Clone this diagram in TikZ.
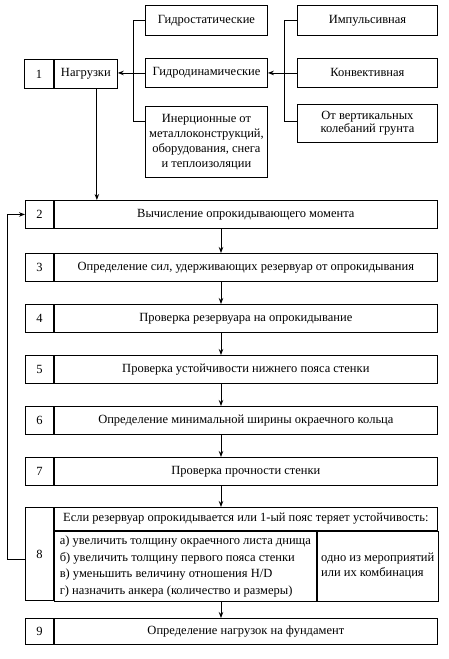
\documentclass[tikz,border=0pt]{standalone}
\usepackage{fontspec}
\setmainfont{Liberation Serif}
\usetikzlibrary{arrows.meta}
\newcommand{\widthnum}{28pt}
\newcommand{\widthstep}{383pt}
\newcommand{\heightstep}{28pt}
\tikzset{
    common/.style={anchor=north west, draw, rectangle, inner sep=2pt, line width=0.9pt,
        font=\fontsize{12.5}{15}\selectfont},
    num/.style={common, minimum width=\widthnum, minimum height=\heightstep},
    stepbox/.style={common, minimum width=\widthstep, minimum height=\heightstep},
    load/.style={common, minimum width=122pt, align=center},
    kind/.style={common, minimum width=140pt, align=center},
    link/.style={line width=0.9pt},
    arrow/.style={link, -{Stealth[length=6pt,width=4.5pt]}}
}

\begin{document}
\begin{tikzpicture}[x=1pt, y=-1pt]
    \useasboundingbox (0,0) rectangle (449,659);

    % loads
    \node[num, minimum width=29pt, minimum height=29pt] (n1) at (24,59) {1};
    \node[common, minimum width=63pt, minimum height=29pt] (s1) at (n1.north east) {Нагрузки};

    \node[load, minimum height=30pt] (ls) at (145,5) {Гидростатические};
    \node[load, minimum height=29pt] (ld) at (145,58) {Гидродинамические};
    \node[load, minimum height=71pt] (li) at (145,106)
        {Инерционные от\\металлоконструкций,\\оборудования, снега\\и теплоизоляции};

    \node[kind, minimum height=30pt] (ki) at (297,5) {Импульсивная};
    \node[kind, minimum height=29pt] (kc) at (297,58) {Конвективная};
    \node[kind, minimum height=38pt, font=\fontsize{12.5}{13.5}\selectfont] (kv) at (297,104)
        {От вертикальных\\колебаний грунта};

    \coordinate (bl) at (133,121);
    \coordinate (br) at (284,121);
    \draw[link] (ls.west) -| (bl) -- (bl -| li.west);
    \draw[arrow] (ld.west) -- (ld.west -| s1.east);
    \draw[link] (ki.west) -| (br) -- (br -| kv.west);
    \draw[arrow] (kc.west) -- (kc.west -| ld.east);

    % steps
    \node[num] (n2) at (25,200) {2};
    \node[stepbox] (s2) at (n2.north east) {Вычисление опрокидывающего момента};
    \node[num] (n3) at (25,253) {3};
    \node[stepbox] (s3) at (n3.north east) {Определение сил, удерживающих резервуар от опрокидывания};
    \node[num] (n4) at (25,304) {4};
    \node[stepbox] (s4) at (n4.north east) {Проверка резервуара на опрокидывание};
    \node[num] (n5) at (25,355) {5};
    \node[stepbox] (s5) at (n5.north east) {Проверка устойчивости нижнего пояса стенки};
    \node[num] (n6) at (25,406) {6};
    \node[stepbox] (s6) at (n6.north east) {Определение минимальной ширины окраечного кольца};
    \node[num] (n7) at (25,457) {7};
    \node[stepbox] (s7) at (n7.north east) {Проверка прочности стенки};

    \node[num, minimum height=93pt] (n8) at (25,507) {8};
    \node[stepbox, minimum height=23pt] (h8) at (n8.north east)
        {Если резервуар опрокидывается или 1-ый пояс теряет устойчивость:};
    \node[common, minimum width=262pt, minimum height=70pt, align=left,
        font=\fontsize{12.5}{16.5}\selectfont] (l8) at (h8.south west)
        {а) увеличить толщину окраечного листа днища\\
         б) увеличить толщину первого пояса стенки\\
         в) уменьшить величину отношения H/D\\
         г) назначить анкера (количество и размеры)};
    \node[common, minimum width=121pt, minimum height=70pt, align=left,
        font=\fontsize{12.5}{15}\selectfont] (r8) at (l8.north east)
        {одно из мероприятий\\или их комбинация};

    \node[num, minimum height=26pt] (n9) at (25,618) {9};
    \node[stepbox, minimum height=26pt] (s9) at (n9.north east) {Определение нагрузок на фундамент};

    % arrows
    \coordinate (axis) at (221,0);
    \draw[arrow] ([xshift=11pt]s1.south) -- ([xshift=11pt]s1.south |- s2.north);
    \draw[arrow] (s2.south -| axis) -- (s3.north -| axis);
    \draw[arrow] (s3.south -| axis) -- (s4.north -| axis);
    \draw[arrow] (s4.south -| axis) -- (s5.north -| axis);
    \draw[arrow] (s5.south -| axis) -- (s6.north -| axis);
    \draw[arrow] (s6.south -| axis) -- (s7.north -| axis);
    \draw[arrow] (s7.south -| axis) -- (h8.north -| axis);
    \draw[arrow] (l8.south -| axis) -- (s9.north -| axis);

    \draw[arrow] ([yshift=-5pt]n8.west) -- ++(-18,0) |- (n2.west);
\end{tikzpicture}
\end{document}
